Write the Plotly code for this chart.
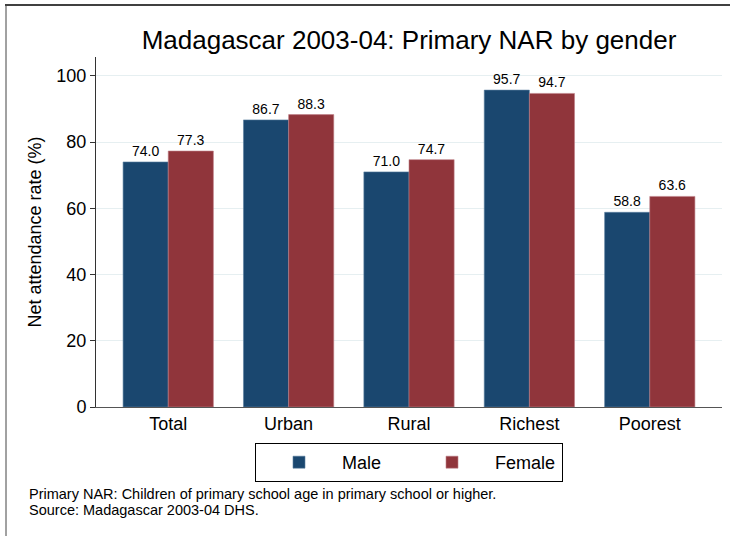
import plotly.graph_objects as go

categories = ["Total", "Urban", "Rural", "Richest", "Poorest"]
male = [74.0, 86.7, 71.0, 95.7, 58.8]
female = [77.3, 88.3, 74.7, 94.7, 63.6]
yticks = [0, 20, 40, 60, 80, 100]

FONT = "Liberation Sans, Arial, sans-serif"
MALE_C = "#1a476f"
FEMALE_C = "#90353b"

# plot-area geometry in pixels (used to place paper-referenced decorations)
L, R, T, B = 96, 722, 57, 407
PW, PH = R - L, B - T


def px(x):
    return (x - L) / PW


def py(y):
    return (B - y) / PH


fig = go.Figure()
fig.add_trace(go.Bar(
    x=categories, y=male, name="Male",
    marker=dict(color=MALE_C, line=dict(color="#5a7fa0", width=0.6)),
    text=[f"{v:.1f}" for v in male], textposition="outside",
    textfont=dict(size=14, color="black", family=FONT), cliponaxis=False,
))
fig.add_trace(go.Bar(
    x=categories, y=female, name="Female",
    marker=dict(color=FEMALE_C, line=dict(color="#c08088", width=0.6)),
    text=[f"{v:.1f}" for v in female], textposition="outside",
    textfont=dict(size=14, color="black", family=FONT), cliponaxis=False,
))

fig.update_layout(
    width=730, height=536,
    margin=dict(l=L, r=730 - R, t=T, b=536 - B),
    paper_bgcolor="white", plot_bgcolor="white",
    font=dict(family=FONT, color="black"),
    barmode="group", bargap=0.25, bargroupgap=0,
    title=dict(text="Madagascar 2003-04: Primary NAR by gender",
               x=0.5, xref="paper", xanchor="center",
               y=1 - 40 / 536, yref="container", yanchor="middle",
               font=dict(size=26, family=FONT, color="black")),
    xaxis=dict(range=[-0.6, 4.6], showline=True, linecolor="#555555", linewidth=1.3,
               ticks="", tickfont=dict(size=18), showgrid=False, fixedrange=True),
    yaxis=dict(range=[0, 105.7], tickvals=yticks, showline=True, linecolor="#333333",
               linewidth=1, ticks="outside", ticklen=5, tickcolor="#333333",
               tickfont=dict(size=18), showgrid=True, gridcolor="#e6eff1", gridwidth=1,
               zeroline=False,
               title=dict(text="Net attendance rate (%)", font=dict(size=18), standoff=10)),
    legend=dict(orientation="h", x=0.5, xanchor="center", y=py(443), yanchor="top",
                bordercolor="black", borderwidth=1, bgcolor="white",
                font=dict(size=18), itemwidth=76, entrywidth=62, tracegroupgap=0),
    showlegend=True,
)

fig.add_annotation(
    text="Primary NAR: Children of primary school age in primary school or higher.",
    xref="paper", yref="paper", x=px(27), y=py(494),
    xanchor="left", yanchor="middle", align="left", showarrow=False,
    font=dict(size=14.5, family=FONT, color="black"),
)
fig.add_annotation(
    text="Source: Madagascar 2003-04 DHS.",
    xref="paper", yref="paper", x=px(27), y=py(510),
    xanchor="left", yanchor="middle", align="left", showarrow=False,
    font=dict(size=14.5, family=FONT, color="black"),
)

# outer frame (top and left edges)
fig.add_shape(type="line", xref="paper", yref="paper",
              x0=px(5), x1=px(730), y0=py(5), y1=py(5),
              line=dict(color="black", width=1.5))
fig.add_shape(type="line", xref="paper", yref="paper",
              x0=px(6), x1=px(6), y0=py(5), y1=py(536),
              line=dict(color="#444444", width=1))

fig.write_html("out.html", config={"displayModeBar": False},
               post_script="document.body.style.margin='0';")
